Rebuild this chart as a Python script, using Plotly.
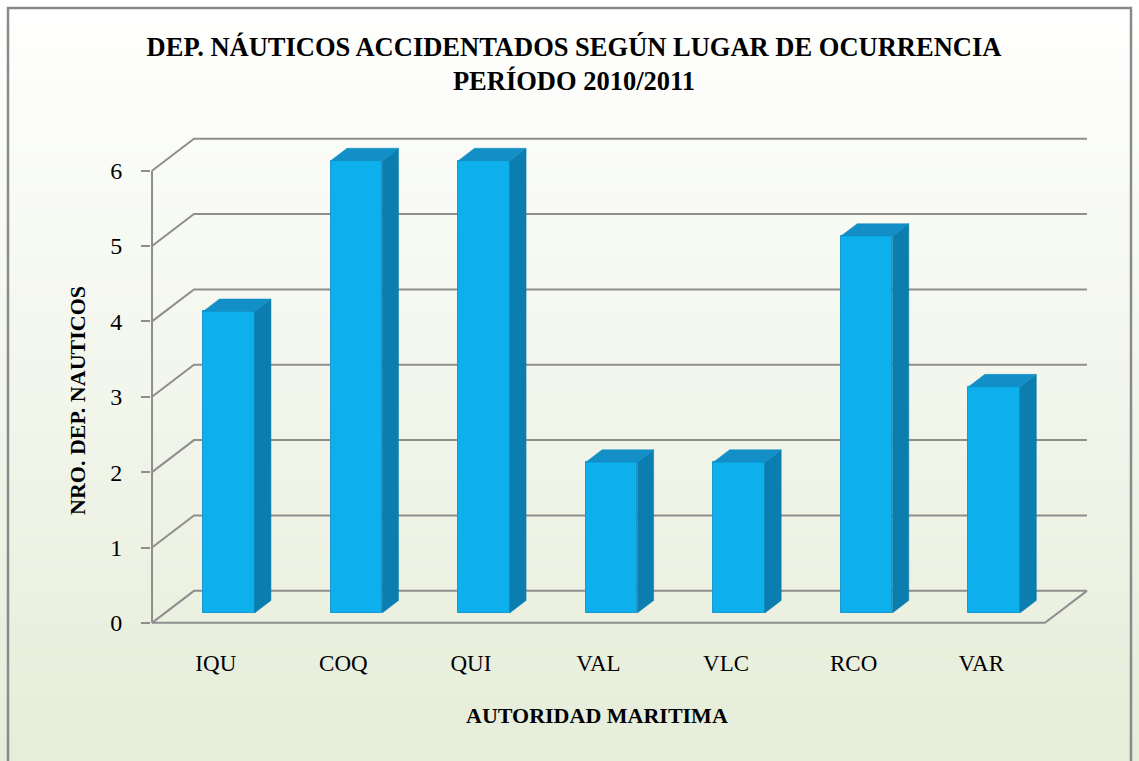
import plotly.graph_objects as go

# ---- data ----
categories = ["IQU", "COQ", "QUI", "VAL", "VLC", "RCO", "VAR"]
values = [4, 6, 6, 2, 2, 5, 3]
y_ticks = [0, 1, 2, 3, 4, 5, 6]
title_text = "DEP. NÁUTICOS ACCIDENTADOS SEGÚN LUGAR DE OCURRENCIA<br>PERÍODO 2010/2011"
x_title = "AUTORIDAD MARITIMA"
y_title = "NRO. DEP. NAUTICOS"

# ---- layout geometry (pixels) ----
W, H = 1139, 761
ML, MR, MT, MB = 151, 43, 133, 137
XR = [-0.008, 7.4]
YR = [-0.015, 6.5]
PW, PH = W - ML - MR, H - MT - MB

def px_x(px):
    return (px - ML) / PW

def px_y(py):
    return (H - MB - py) / PH

# 3D depth offsets in data units
DX, DY = 0.329, 0.425
Z0, Z1 = 0.31, 0.70      # bar depth (front, back) as fraction
HALF = 0.202              # bar half width

FRONT = "#0DB0EC"
SIDE = "#0B7DAE"
TOP = "#128FC6"
GRID = "#8E8E8E"
FONT = "Liberation Serif"

fig = go.Figure()

# bar fronts
xs = [i + 0.5 + Z0 * DX for i in range(len(categories))]
fig.add_trace(go.Bar(
    x=xs, y=values, base=Z0 * DY, width=2 * HALF,
    marker=dict(color=FRONT, line=dict(color="#1A98CF", width=1)),
    hoverinfo="skip", showlegend=False,
))

# bar sides and tops
side_x, side_y, top_x, top_y = [], [], [], []
for i, v in enumerate(values):
    c = i + 0.5
    xl, xr = c - HALF, c + HALF
    fx0, fy0 = Z0 * DX, Z0 * DY
    fx1, fy1 = Z1 * DX, Z1 * DY
    side_x += [xr + fx0, xr + fx1, xr + fx1, xr + fx0, xr + fx0, None]
    side_y += [fy0, fy1, v + fy1, v + fy0, fy0, None]
    top_x += [xl + fx0, xr + fx0, xr + fx1, xl + fx1, xl + fx0, None]
    top_y += [v + fy0, v + fy0, v + fy1, v + fy1, v + fy0, None]

fig.add_trace(go.Scatter(x=side_x, y=side_y, fill="toself", fillcolor=SIDE,
                         mode="lines", line=dict(color=SIDE, width=0.5),
                         hoverinfo="skip", showlegend=False))
fig.add_trace(go.Scatter(x=top_x, y=top_y, fill="toself", fillcolor=TOP,
                         mode="lines", line=dict(color=TOP, width=0.5),
                         hoverinfo="skip", showlegend=False))

shapes = []
# background gradient
N = 60
top_c = (255, 255, 255)
bot_c = (230, 237, 217)
for k in range(N):
    t = (k + 0.5) / N
    col = tuple(round(top_c[j] + (bot_c[j] - top_c[j]) * t) for j in range(3))
    shapes.append(dict(type="rect", xref="paper", yref="paper", layer="below",
                       x0=px_x(0), x1=px_x(W), y0=px_y(H * k / N), y1=px_y(H * (k + 1) / N + 1),
                       fillcolor="rgb(%d,%d,%d)" % col, line=dict(width=0)))

ncat = len(categories)
# gridlines on left wall + back wall
for t in y_ticks:
    path = "M 0,%g L %g,%g L %g,%g" % (t, DX, t + DY, ncat + DX, t + DY)
    shapes.append(dict(type="path", xref="x", yref="y", layer="below", path=path,
                       line=dict(color=GRID, width=2)))
# floor front edge + right edge
shapes.append(dict(type="path", xref="x", yref="y", layer="below",
                   path="M 0,0 L %g,0 L %g,%g" % (ncat, ncat + DX, DY),
                   line=dict(color=GRID, width=2)))
# front vertical axis
shapes.append(dict(type="line", xref="x", yref="y", layer="below",
                   x0=0, x1=0, y0=0, y1=max(y_ticks), line=dict(color=GRID, width=2)))
# outer border
shapes.append(dict(type="rect", xref="paper", yref="paper", layer="above",
                   x0=px_x(8), x1=px_x(1131), y0=px_y(775), y1=px_y(8),
                   line=dict(color="#8A8A8A", width=2.5), fillcolor="rgba(0,0,0,0)"))

annotations = [
    dict(text=x_title, xref="paper", yref="paper", x=px_x(597), y=px_y(715),
         xanchor="center", yanchor="middle", showarrow=False,
         font=dict(family=FONT, size=22, color="black", weight="bold")),
    dict(text=y_title, xref="paper", yref="paper", x=px_x(77), y=px_y(401),
         xanchor="center", yanchor="middle", showarrow=False, textangle=-90,
         font=dict(family=FONT, size=22, color="black", weight="bold")),
]

fig.update_layout(
    width=W, height=H,
    margin=dict(l=ML, r=MR, t=MT, b=MB, pad=0),
    paper_bgcolor="white", plot_bgcolor="rgba(0,0,0,0)",
    title=dict(text=title_text, x=574 / W, xanchor="center", y=1 - 56 / H,
               yanchor="middle", yref="container",
               font=dict(family=FONT, size=26.5, color="black", weight="bold")),
    shapes=shapes, annotations=annotations,
    bargap=0,
    xaxis=dict(range=XR, showgrid=False, zeroline=False, showline=False,
               tickmode="array", tickvals=[i + 0.5 for i in range(ncat)],
               ticktext=categories, ticks="outside", ticklen=18,
               tickcolor="rgba(0,0,0,0)",
               tickfont=dict(family=FONT, size=23, color="black")),
    yaxis=dict(range=YR, showgrid=False, zeroline=False, showline=False,
               tickmode="array", tickvals=y_ticks, ticks="outside", ticklen=9,
               tickwidth=2, tickcolor=GRID, ticklabelstandoff=14,
               tickfont=dict(family=FONT, size=24, color="black")),
)

fig.write_html("out.html", config={"displayModeBar": False},
               post_script="document.body.style.margin='0';document.body.style.overflow='hidden';")
